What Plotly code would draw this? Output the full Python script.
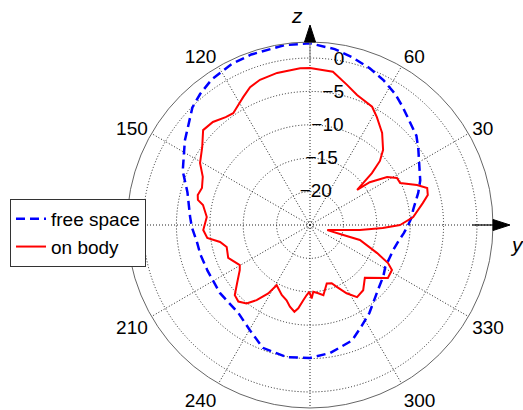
import plotly.graph_objects as go

# Free-space radiation pattern: angle (deg, CCW from +y) and gain (dB)
fs_theta = [0, 4.5, 8.3, 16.5, 22, 29, 35, 40, 46, 52, 57, 63, 69, 76, 82, 90,
            98, 109, 116, 124, 130, 135, 146, 157, 165, 176, 181, 189, 195, 204,
            217, 231, 240, 249, 260, 270, 279, 290, 297, 304, 317, 325, 331, 338,
            343, 350, 355, 360]
fs_db = [-10.3, -9.7, -9.4, -8.1, -7.2, -6.3, -5.2, -4.2, -3.5, -2.5, -1.6, -0.7,
         0.1, 0.9, 1.6, 2.2, 2.2, 2.0, 1.8, 1.3, 0.6, -0.1, -2.4, -4.3, -6.0, -7.0,
         -7.3, -7.9, -8.0, -8.2, -8.1, -8.0, -6.9, -5.3, -4.9, -5.1, -5.6, -6.6,
         -8.0, -9.1, -11.0, -11.6, -12.1, -12.1, -12.0, -11.5, -10.9, -10.3]

# On-body radiation pattern
ob_theta = [0, 4.4, 11, 14.3, 17.5, 20.5, 25, 28.4, 31.9, 35.6, 36.7, 40, 42.5,
            45.8, 51.9, 58.2, 62.3, 70.1, 75.2, 81.5, 90, 93.6, 102.2, 109, 113.5,
            117.6, 120, 124.5, 128, 133.3, 138.4, 144.2, 150.6, 155.8, 161.1, 165,
            167.4, 169.4, 175.6, 182.7, 187.2, 190.7, 194.8, 201.9, 209.7, 212.7,
            218.7, 223, 226.9, 231, 234.6, 238.6, 241, 248, 252.7, 256.2, 259.8,
            262, 264.9, 267.3, 269.4, 271.3, 272.8, 276.9, 280.8, 286, 290.4,
            293.4, 298.2, 303.1, 309.2, 316.1, 325.8, 331.2, 334, 337.3, 343.3,
            343.4, 343.6, 354.3, 357.6, 360]
ob_db = [-11.5, -9.5, -7.8, -6.8, -6.6, -7.9, -10.1, -10.2, -11.4, -14.0, -16.2,
         -12.9, -10.8, -9.3, -7.5, -6.0, -5.0, -4.3, -3.3, -1.8, -1.5, -1.5, -1.7,
         -2.0, -2.5, -3.4, -3.9, -4.7, -4.5, -3.8, -3.6, -5.1, -6.1, -7.4, -7.9,
         -7.6, -7.8, -8.7, -9.5, -9.0, -9.5, -11.3, -12.1, -11.8, -12.9, -12.5,
         -11.0, -9.6, -9.3, -9.9, -11.2, -13.0, -14.7, -13.7, -13.2, -12.4, -11.8,
         -12.4, -13.7, -14.5, -15.0, -14.0, -15.0, -14.7, -14.3, -15.9, -15.7,
         -14.9, -13.4, -12.1, -12.4, -13.6, -10.9, -11.0, -12.0, -14.1, -17.2,
         -19.8, -22.3, -17.5, -14.1, -11.5]

ring_vals = [-20, -15, -10, -5, 0]
ring_text = ["\u221220", "\u221215", "\u221210", "\u22125", "0"]
spoke_vals = list(range(0, 360, 30))
spoke_text = ["", "30", "60", "", "120", "150", "", "210", "240", "", "300", "330"]

W, H = 523, 410
CX, CY, R = 310, 225, 183          # plot centre and outer radius (px)
R_MIN, R_MAX = -25, 2.4             # radial range (dB)
PX_PER_DB = R / (R_MAX - R_MIN)
FONT = "Liberation Sans, Arial, Helvetica, sans-serif"


def px(x):
    return x / W


def py(y):
    return 1 - y / H


fig = go.Figure()
fig.add_trace(go.Scatterpolar(
    r=fs_db, theta=fs_theta, mode="lines", name="free space",
    line=dict(color="#0000ff", width=2.5, dash="9px,5px")))
fig.add_trace(go.Scatterpolar(
    r=ob_db, theta=ob_theta, mode="lines", name="on body",
    line=dict(color="#ff0000", width=2)))
fig.add_trace(go.Scatterpolar(
    r=ring_vals, theta=[80] * len(ring_vals), mode="text", text=ring_text,
    textfont=dict(size=19, color="black", family=FONT),
    textposition="middle center", showlegend=False, hoverinfo="skip"))

grid = dict(gridcolor="#222222", gridwidth=1, griddash="1px,2px")
fig.update_layout(
    width=W, height=H,
    margin=dict(l=0, r=0, t=0, b=0),
    paper_bgcolor="white",
    font=dict(family=FONT, size=19, color="black"),
    polar=dict(
        domain=dict(x=[(CX - R) / W, (CX + R) / W],
                    y=[(H - CY - R) / H, (H - CY + R) / H]),
        bgcolor="white",
        radialaxis=dict(range=[R_MIN, R_MAX],
                        tickvals=[-24.5] + ring_vals,
                        showticklabels=False, ticks="", showline=False,
                        angle=80, **grid),
        angularaxis=dict(tickvals=spoke_vals, ticktext=spoke_text,
                         ticks="", showline=True, linecolor="#666666",
                         linewidth=1, direction="counterclockwise",
                         rotation=0, tickfont=dict(size=19, family=FONT),
                         **grid),
    ),
    legend=dict(x=px(10), y=py(199), xanchor="left", yanchor="top",
                bgcolor="white", bordercolor="#333333", borderwidth=1,
                font=dict(size=19, family=FONT), tracegroupgap=0),
)

# y and z axis arrows drawn on the polar frame
r_in = (-0.7 - R_MIN) * PX_PER_DB
head_len, head_half = 17, 5.5
shapes = [
    dict(type="line", xref="paper", yref="paper",
         x0=px(CX), y0=py(CY - r_in), x1=px(CX), y1=py(CY - R),
         line=dict(color="#888888", width=1.2)),
    dict(type="path", xref="paper", yref="paper", fillcolor="black",
         line=dict(color="black", width=1),
         path=f"M {px(CX - head_half)} {py(CY - R)} L {px(CX + head_half)} {py(CY - R)} "
              f"L {px(CX)} {py(CY - R - head_len)} Z"),
    dict(type="line", xref="paper", yref="paper",
         x0=px(CX + r_in), y0=py(CY), x1=px(CX + R), y1=py(CY),
         line=dict(color="black", width=1.2)),
    dict(type="path", xref="paper", yref="paper", fillcolor="black",
         line=dict(color="black", width=1),
         path=f"M {px(CX + R)} {py(CY - head_half)} L {px(CX + R)} {py(CY + head_half)} "
              f"L {px(CX + R + head_len)} {py(CY)} Z"),
]
fig.update_layout(shapes=shapes)

fig.add_annotation(x=px(CX - 13), y=py(CY - R - 27), xref="paper", yref="paper",
                   xanchor="center", yanchor="middle",
                   text="<i>z</i>", showarrow=False, font=dict(size=21, family=FONT))
fig.add_annotation(x=px(CX + R + 24), y=py(CY + 19), xref="paper", yref="paper",
                   xanchor="center", yanchor="middle",
                   text="<i>y</i>", showarrow=False, font=dict(size=21, family=FONT))

fig.write_html("out.html")
